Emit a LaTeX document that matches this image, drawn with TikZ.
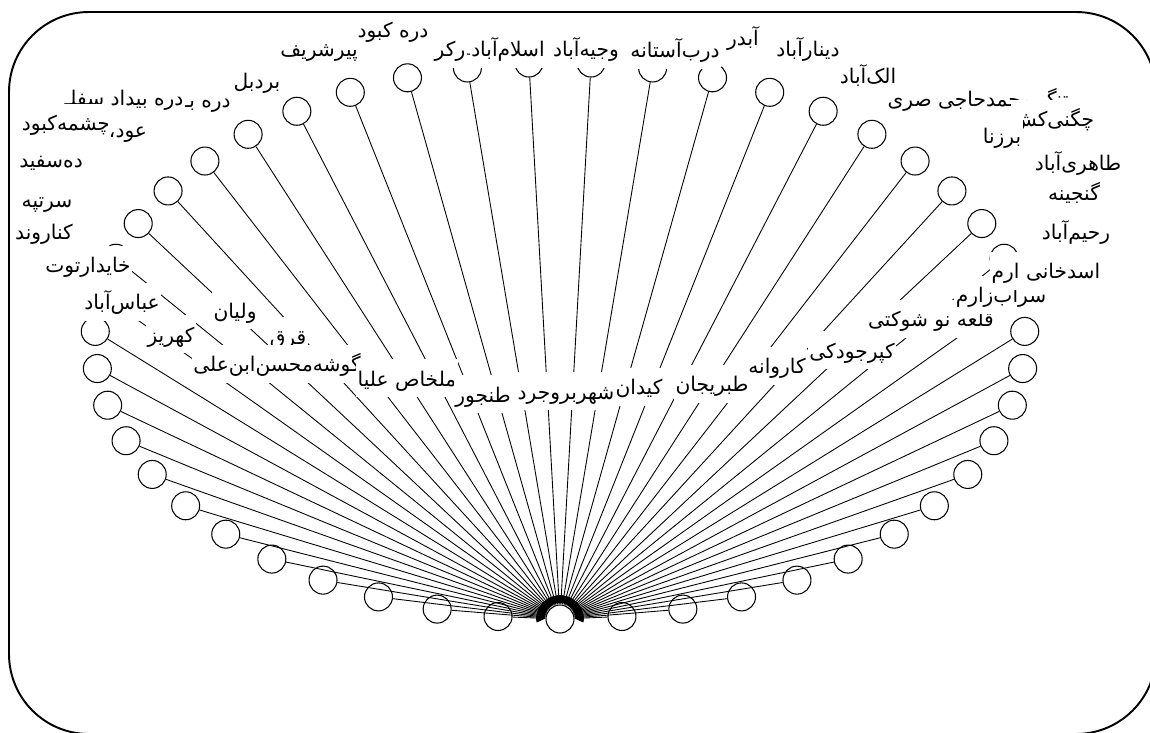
\documentclass[tikz,border=0pt]{standalone}
\usepackage{fontspec}
\usetikzlibrary{arrows.meta}
\newfontfamily\farsifont[Script=Arabic]{DejaVu Sans}
\TeXXeTstate=1
\newcommand{\fatxt}[1]{\beginR#1\endR}
\begin{document}
\begin{tikzpicture}[x=0.02cm, y=-0.02cm,
    village/.style={draw, circle, fill=white, minimum size=0.56cm, inner sep=0pt, line width=0.6pt},
    place/.style={fill=white, inner xsep=0.8pt, inner ysep=2.5pt, text height=13pt, text depth=3.5pt,
      anchor=base, font=\farsifont\fontsize{11.5}{13}\selectfont}]
  \useasboundingbox (0,0) rectangle (1150,733);

  % hub and the villages round it
  \node[village] (hub) at (560,619) {};
  \foreach \k in {1,...,46}
    \node[village] (v\k) at ({560+465*cos(-90+\k*7.659574)}, {340.7-278.3*sin(-90+\k*7.659574)}) {};
  \foreach \k in {1,...,46}
    \draw[line width=0.5pt, -{Triangle[length=5pt, width=5pt]}] (v\k) -- (hub);

  % names
  \foreach \px/\py/\vname [count=\i] in {
      319/57/پیرشریف, 393/38/دره کبود, 257/89/بردبل,
      207/108/دره ب^^^^0640, 124/106/دره بیداد سفل^^^^0640,
      66/131/چشمه^^^^200cکبود, 128/138/عود،, 51/168/ده^^^^200cسفید, 47/208/سرتپه,
      44/240/کناروند, 88/273/خایدارتوت, 122/310/عباس^^^^200cآباد,
      171/342/کهریز, 235/318/ولیان, 288/344/قرق,
      277/372/گوشه^^^^200cمحسن^^^^200cابن^^^^200cعلی, 407/386/ملخاص علیا,
      483/402/طنجور, 566/399/شهربروجرد, 639/395/کیدان, 712/392/طبریجان,
      777/374/کاروانه, 852/358/کپرجودکی, 931/327/قلعه نو شوکتی,
      1001/303/سراب^^^^200cزارم, 1046/279/اسدخانی ارم, 1076/240/رحیم^^^^200cآباد,
      1074/201/گنجینه, 1078/171/طاهری^^^^200cآباد, 978/107/تنگ محمدحاجی صری,
      1053/127/چگنی^^^^200cکش, 1002/144/برزنا, 868/84/الک^^^^200cآباد,
      808/57/دینارآباد, 743/46/آبدر, 675/58/درب^^^^200cآستانه,
      586/57/وجیه^^^^200cآباد, 450/57/رکر, 508/57/اسلام^^^^200cآباد}
    \node[place] (p\i) at (\px,\py) {\fatxt{\vname}};

  % frame
  \draw[line width=1.1pt, rounded corners=1.6cm] (9,12) rectangle (1156,734);
\end{tikzpicture}
\end{document}
